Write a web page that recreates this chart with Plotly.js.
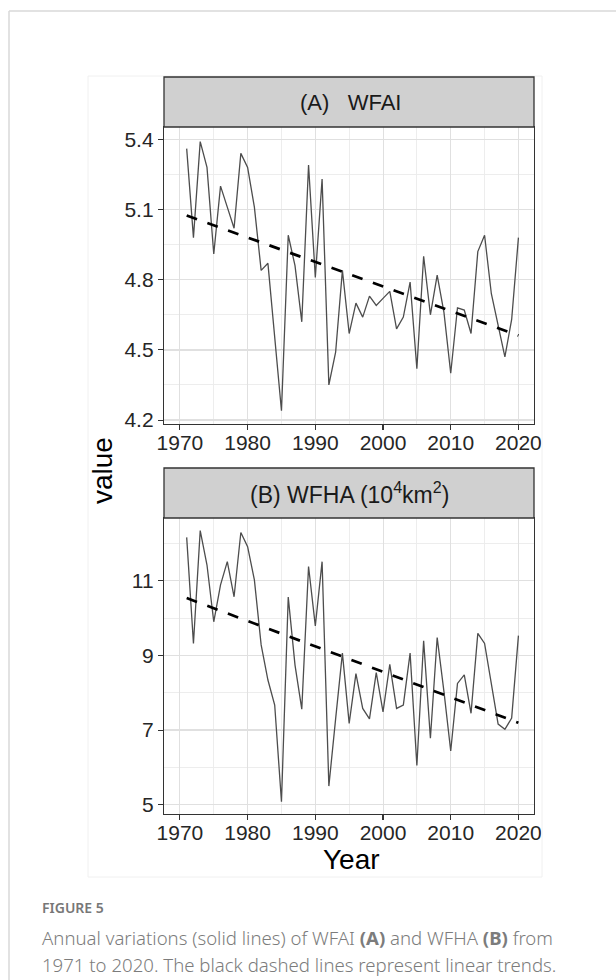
<!DOCTYPE html>
<html>
<head>
<meta charset="utf-8">
<script src="https://cdn.plot.ly/plotly-3.0.1.min.js"></script>
<style>
  html, body { margin: 0; padding: 0; background: #ffffff; }
  #chart { width: 616px; height: 980px; }
</style>
</head>
<body>
<div id="chart"></div>
<script>
// Annual series, 1971-2020
const years = [
  1971, 1972, 1973, 1974, 1975, 1976, 1977, 1978, 1979, 1980,
  1981, 1982, 1983, 1984, 1985, 1986, 1987, 1988, 1989, 1990,
  1991, 1992, 1993, 1994, 1995, 1996, 1997, 1998, 1999, 2000,
  2001, 2002, 2003, 2004, 2005, 2006, 2007, 2008, 2009, 2010,
  2011, 2012, 2013, 2014, 2015, 2016, 2017, 2018, 2019, 2020
];

// WFAI
const wfai = [
  5.36, 4.98, 5.39, 5.28, 4.91, 5.20, 5.11, 5.02, 5.34, 5.28,
  5.11, 4.84, 4.87, 4.57, 4.24, 4.99, 4.86, 4.62, 5.29, 4.81,
  5.23, 4.35, 4.49, 4.84, 4.57, 4.70, 4.64, 4.73, 4.69, 4.72,
  4.75, 4.59, 4.64, 4.79, 4.42, 4.90, 4.65, 4.82, 4.66, 4.40,
  4.68, 4.67, 4.57, 4.92, 4.99, 4.74, 4.61, 4.47, 4.63, 4.98
];

// WFHA (10^4 km^2)
const wfha = [
  12.16, 9.32, 12.34, 11.42, 9.90, 10.89, 11.51, 10.57, 12.29, 11.91,
  11.02, 9.28, 8.34, 7.67, 5.08, 10.56, 8.74, 7.56, 11.38, 9.79,
  11.51, 5.50, 7.30, 9.06, 7.18, 8.51, 7.58, 7.30, 8.54, 7.49,
  8.76, 7.58, 7.67, 9.06, 6.05, 9.39, 6.78, 9.48, 8.03, 6.44,
  8.25, 8.48, 7.45, 9.59, 9.32, 8.25, 7.16, 7.02, 7.32, 9.53
];

const panelTitles = [
  "(A)\u00a0\u00a0 WFAI",
  "(B) WFHA (10<sup>4</sup>km<sup>2</sup>)"
];

// ordinary least-squares trend of a series against year
function linearFit(x, y) {
  const n = x.length;
  const mx = x.reduce((a, b) => a + b, 0) / n;
  const my = y.reduce((a, b) => a + b, 0) / n;
  let sxy = 0, sxx = 0;
  for (let i = 0; i < n; i++) {
    sxy += (x[i] - mx) * (y[i] - my);
    sxx += (x[i] - mx) * (x[i] - mx);
  }
  const slope = sxy / sxx;
  return x.map(v => my + slope * (v - mx));
}

const W = 616, H = 980;
const px = v => v / W;
const py = v => 1 - v / H;

const lineStyle = { color: "#4d4d4d", width: 1.3 };
const trendStyle = { color: "#000000", width: 2.7, dash: "11px,11px" };

const traces = [
  { x: years, y: wfai, xaxis: "x", yaxis: "y", mode: "lines", line: lineStyle, hoverinfo: "x+y" },
  { x: years, y: linearFit(years, wfai), xaxis: "x", yaxis: "y", mode: "lines", line: trendStyle, hoverinfo: "skip" },
  { x: years, y: wfha, xaxis: "x2", yaxis: "y2", mode: "lines", line: lineStyle, hoverinfo: "x+y" },
  { x: years, y: linearFit(years, wfha), xaxis: "x2", yaxis: "y2", mode: "lines", line: trendStyle, hoverinfo: "skip" }
];

const axisFont = { family: "Liberation Sans, Arial, sans-serif", size: 21, color: "#262626" };
const gridMajor = "#e0e0e0";
const gridMinor = "#ebebeb";

function xAxis(anchor) {
  return {
    type: "linear",
    anchor: anchor,
    domain: [px(164), px(534)],
    range: [1967.65, 2022.3],
    tickmode: "linear", tick0: 1970, dtick: 10,
    ticks: "outside", ticklen: 5, tickwidth: 1.1, tickcolor: "#333333",
    ticklabelstandoff: -5,
    tickfont: axisFont,
    showline: true, linecolor: "#333333", linewidth: 1.2, mirror: true,
    showgrid: true, gridcolor: gridMajor, gridwidth: 1,
    minor: { tickmode: "linear", tick0: 1970, dtick: 5, showgrid: true, gridcolor: gridMinor, gridwidth: 0.9, ticks: "" },
    zeroline: false, showspikes: false, fixedrange: true
  };
}

function yAxis(anchor, top, bottom, range, tick0, dtick, fmt) {
  return {
    type: "linear",
    anchor: anchor,
    domain: [py(bottom), py(top)],
    range: range,
    tickmode: "linear", tick0: tick0, dtick: dtick, tickformat: fmt,
    ticks: "outside", ticklen: 5, tickwidth: 1.1, tickcolor: "#333333",
    tickfont: axisFont,
    showline: true, linecolor: "#333333", linewidth: 1.2, mirror: true,
    showgrid: true, gridcolor: gridMajor, gridwidth: 1.4,
    minor: { tickmode: "linear", dtick: dtick / 2, tick0: tick0, showgrid: true, gridcolor: gridMinor, gridwidth: 0.9, ticks: "" },
    zeroline: false, showspikes: false, fixedrange: true
  };
}

function strip(top, bottom) {
  return {
    type: "rect", xref: "paper", yref: "paper",
    x0: px(164), x1: px(534), y0: py(bottom), y1: py(top),
    fillcolor: "#d0d0d0", line: { color: "#333333", width: 1.3 }, layer: "above"
  };
}

const shapes = [
  // card edges
  { type: "line", xref: "paper", yref: "paper", x0: px(9), x1: px(9), y0: 0, y1: py(11), line: { color: "#d9d9d9", width: 1.5 } },
  { type: "line", xref: "paper", yref: "paper", x0: px(9), x1: 1, y0: py(11), y1: py(11), line: { color: "#d9d9d9", width: 1.5 } },
  // figure frame
  { type: "rect", xref: "paper", yref: "paper", x0: px(88), x1: px(542), y0: py(877), y1: py(76), line: { color: "#f0f0f0", width: 1 } },
  strip(77, 127),
  strip(468, 518)
];

const capFont = { family: "Noto Sans, Open Sans, sans-serif", size: 18.6, color: "#7c7c7c", weight: 300 };
const stripFont = { family: "Liberation Sans, Arial, sans-serif", color: "#1a1a1a" };

const annotations = [
  { text: panelTitles[0], x: px(350), y: py(102), xref: "paper", yref: "paper", showarrow: false,
    xanchor: "center", yanchor: "middle", font: Object.assign({ size: 22 }, stripFont) },
  { text: panelTitles[1], x: px(349), y: py(493), xref: "paper", yref: "paper", showarrow: false,
    xanchor: "center", yanchor: "middle", font: Object.assign({ size: 23 }, stripFont) },
  { text: "value", x: px(102), y: py(471), xref: "paper", yref: "paper", showarrow: false, textangle: -90,
    xanchor: "center", yanchor: "middle", font: { family: "Liberation Sans, Arial, sans-serif", size: 28, color: "#000000" } },
  { text: "Year", x: px(351), y: py(859), xref: "paper", yref: "paper", showarrow: false,
    xanchor: "center", yanchor: "middle", font: { family: "Liberation Sans, Arial, sans-serif", size: 28, color: "#000000" } },
  { text: "FIGURE 5", x: px(40), y: py(907), xref: "paper", yref: "paper", showarrow: false,
    xanchor: "left", yanchor: "middle", font: { family: "Noto Sans, Open Sans, sans-serif", size: 14, color: "#777777", weight: 600 } },
  { text: "Annual variations (solid lines) of WFAI <b>(A)</b> and WFHA <b>(B)</b> from", x: px(40), y: py(937), xref: "paper", yref: "paper", showarrow: false,
    xanchor: "left", yanchor: "middle", font: capFont },
  { text: "1971 to 2020. The black dashed lines represent linear trends.", x: px(40), y: py(964), xref: "paper", yref: "paper", showarrow: false,
    xanchor: "left", yanchor: "middle", font: capFont }
];

const layout = {
  width: W, height: H,
  margin: { l: 0, r: 0, t: 0, b: 0 },
  paper_bgcolor: "#ffffff", plot_bgcolor: "#ffffff",
  showlegend: false,
  xaxis: xAxis("y"),
  yaxis: yAxis("x", 127, 424, [4.1833, 5.4526], 4.2, 0.3, ".1f"),
  xaxis2: xAxis("y2"),
  yaxis2: yAxis("x2", 518, 814, [4.753, 12.679], 5, 2, "d"),
  shapes: shapes,
  annotations: annotations
};

Plotly.newPlot("chart", traces, layout, { displayModeBar: false, staticPlot: true });
</script>
</body>
</html>
